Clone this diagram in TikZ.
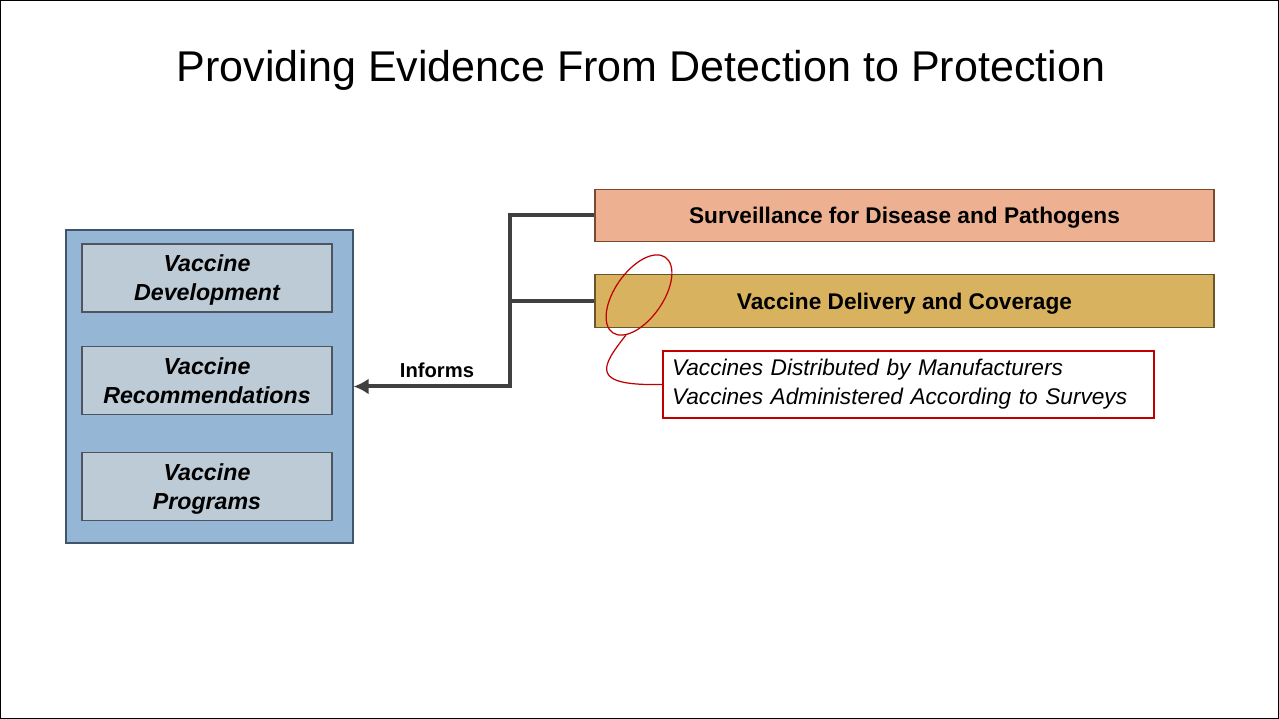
\documentclass[tikz,border=0pt]{standalone}
\usepackage{fontspec}
\setmainfont{Liberation Sans}
\usetikzlibrary{arrows.meta,positioning}
\definecolor{panelfill}{HTML}{95B6D4}
\definecolor{paneledge}{HTML}{3F556B}
\definecolor{itemfill}{HTML}{BDCBD6}
\definecolor{itemedge}{HTML}{4D5660}
\definecolor{survfill}{HTML}{EDB192}
\definecolor{survedge}{HTML}{7A4930}
\definecolor{covfill}{HTML}{D8B25F}
\definecolor{covedge}{HTML}{6A5628}
\definecolor{linkgray}{HTML}{404040}
\definecolor{notered}{HTML}{C00000}

\begin{document}
\begin{tikzpicture}[x=0.02cm,y=-0.02cm,
			panel/.style={draw=paneledge,fill=panelfill,line width=0.7pt,minimum width=5.74cm,minimum height=6.26cm},
			item/.style={draw=itemedge,fill=itemfill,line width=0.7pt,minimum width=5cm,minimum height=1.36cm,align=center,
				text depth=-1.5pt,font=\fontsize{13.2}{16.6}\selectfont\bfseries\itshape},
			bar/.style={line width=0.8pt,minimum width=12.38cm,minimum height=1.05cm,text depth=0pt,
				font=\fontsize{12.9}{16}\selectfont\bfseries},
			link/.style={draw=linkgray,line width=0.08cm},
			callout/.style={draw=notered,line width=0.7pt}]
			\useasboundingbox (0,0) rectangle (1279,719);
			\draw[black,line width=0.6pt] (0.5,0.5) rectangle (1278.5,718.5);
			\node (title) at (641,70) {\fontsize{24.5}{28}\selectfont Providing Evidence From Detection to Protection};
			% left column
			\node[panel] (panel) at (209.5,386.5) {};
			\node[item] (dev) at (207,278) {Vaccine\\Development};
			\node[item] (rec) at (207,380.5) {Vaccine\\Recommendations};
			\node[item] (prog) at (207,486.5) {Vaccine\\Programs};
			% right bars
			\node[bar,draw=survedge,fill=survfill] (surv) at (904.5,215.5) {Surveillance for Disease and Pathogens};
			\node[bar,draw=covedge,fill=covfill] (cov) at (904.5,301) {Vaccine Delivery and Coverage};
			\node[draw=notered,line width=0.9pt,fill=white,minimum width=9.82cm,minimum height=1.34cm,inner xsep=0.18cm,
				align=left,text width=9.46cm,font=\fontsize{12.9}{16.6}\selectfont\itshape] (notes) at (908.5,384.5)
				{Vaccines Distributed by Manufacturers\\Vaccines Administered According to Surveys};
			% connectors
			\draw[link] (cov.west) -- ++(-84,0);
			\draw[link,-{Latex[length=0.3cm,width=0.32cm]}] (surv.west) -- ++(-84,0) |- (panel.east);
			\node[font=\fontsize{11.5}{14}\selectfont\bfseries] (informs) at (437,370) {Informs};
			% callout
			\draw[callout] (639,295) ellipse [x radius=46, y radius=24, rotate=55];
			\coordinate (hook) at (626,335);
			\draw[callout] (hook) .. controls (600,368) and (590,386) .. (notes.west);
		\end{tikzpicture}
\end{document}
